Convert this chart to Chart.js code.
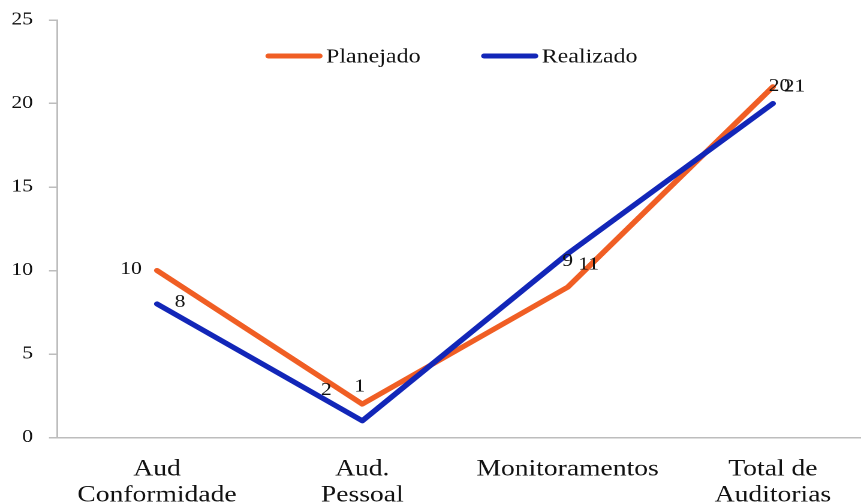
<!DOCTYPE html>
<html><head><meta charset="utf-8">
<script src="https://cdn.jsdelivr.net/npm/chart.js@4/dist/chart.umd.min.js"></script>
<style>
html,body{margin:0;padding:0;overflow:hidden;background:#fff}
#wrap{width:718px;height:502px;transform:scaleX(1.19916);transform-origin:0 0}
</style></head><body>
<div id="wrap"><canvas id="c" width="718" height="502"></canvas></div>
<script>
const categories = [["Aud","Conformidade"],["Aud.","Pessoal"],["Monitoramentos"],["Total de","Auditorias"]];
const seriesNames = ["Planejado","Realizado"];
const planejado = [10,2,9,21];
const realizado = [8,1,11,20];
const yTicks = [0,5,10,15,20,25];

const S = 861/718;
const ORANGE = '#F05E24';
const BLUE = '#1226B8';
const AXIS = '#BDBDBD';
const FONT = "'Liberation Serif', 'Times New Roman', serif";

const labelOffsets = [
  [[-26,-1],[-36,-14],[0,-26],[21.5,0]],
  [[23,-1.5],[-2.5,-34],[21,11],[6.5,-17]]
];

const dataLabels = {
  id:'dataLabels',
  afterDatasetsDraw(chart){
    const ctx = chart.ctx;
    ctx.save();
    ctx.font = "18px " + FONT;
    ctx.fillStyle = '#111';
    ctx.textAlign = 'center';
    ctx.textBaseline = 'middle';
    chart.data.datasets.forEach((ds,i)=>{
      const meta = chart.getDatasetMeta(i);
      meta.data.forEach((pt,j)=>{
        const off = labelOffsets[i][j];
        ctx.fillText(String(ds.data[j].y), pt.x + off[0]/S, pt.y + off[1]);
      });
    });
    ctx.restore();
  }
};

const customLegend = {
  id:'customLegend',
  afterDraw(chart){
    const ctx = chart.ctx;
    const a = chart.chartArea;
    ctx.save();
    ctx.font = "20px " + FONT;
    ctx.textBaseline = 'middle';
    ctx.textAlign = 'left';
    const y = 56;
    const lineLen = 46.7, gap = 3.3, itemGap = 51;
    let x = a.left + (266-57)/S;
    chart.data.datasets.forEach((ds)=>{
      ctx.strokeStyle = ds.borderColor;
      ctx.lineWidth = 5;
      ctx.lineCap = 'round';
      ctx.beginPath();
      ctx.moveTo(x+2, y); ctx.lineTo(x+lineLen-2, y); ctx.stroke();
      ctx.fillStyle = '#111';
      ctx.fillText(ds.label, x+lineLen+gap, y+1);
      x += lineLen + gap + ctx.measureText(ds.label).width + itemGap;
    });
    ctx.restore();
  }
};

const toPts = arr => arr.map((v,i)=>({x:i,y:v}));

new Chart(document.getElementById('c'), {
  type:'line',
  data:{
    datasets:[
      {label:seriesNames[0], data:toPts(planejado), borderColor:ORANGE, backgroundColor:ORANGE, borderWidth:5, pointRadius:0, tension:0, borderCapStyle:'round', borderJoinStyle:'round', order:2},
      {label:seriesNames[1], data:toPts(realizado), borderColor:BLUE, backgroundColor:BLUE, borderWidth:5, pointRadius:0, tension:0, borderCapStyle:'round', borderJoinStyle:'round', order:1}
    ]
  },
  options:{
    responsive:false,
    animation:false,
    devicePixelRatio:2,
    layout:{padding:{top:20,left:0,right:0,bottom:0}},
    plugins:{legend:{display:false}, tooltip:{enabled:false}},
    scales:{
      x:{
        type:'linear',
        min:-0.487, max:3.429,
        afterBuildTicks(s){ s.ticks = categories.map((_,i)=>({value:i})); },
        afterFit(s){ s.height = 502-437.5; s.paddingLeft = 0; s.paddingRight = 0; },
        grid:{display:false},
        border:{display:true, color:AXIS, width:1.5},
        ticks:{
          autoSkip:false, maxRotation:0,
          padding:11,
          font:{family:FONT, size:23, lineHeight:1.13},
          color:'#111',
          callback(v,i){ return categories[Math.round(v)]; }
        }
      },
      y:{
        min:0, max:25,
        afterBuildTicks(s){ s.ticks = yTicks.map(v=>({value:v})); },
        afterFit(s){ s.width = 57/S; s.paddingTop = 0; s.paddingBottom = 0; },
        grid:{display:true, drawOnChartArea:false, drawTicks:true, tickLength:6.7, color:AXIS, lineWidth:1.5},
        border:{display:true, color:AXIS, width:1.5},
        ticks:{padding:13.3, font:{family:FONT, size:18}, color:'#111'}
      }
    }
  },
  plugins:[dataLabels, customLegend]
});
</script>
</body></html>
